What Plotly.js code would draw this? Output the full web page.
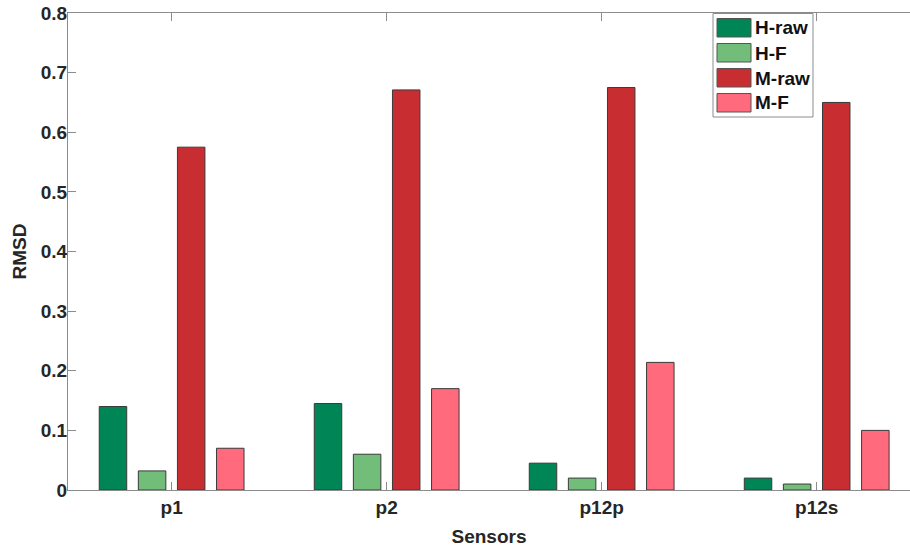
<!DOCTYPE html>
<html>
<head>
<meta charset="utf-8">
<script src="https://cdn.plot.ly/plotly-3.0.1.min.js"></script>
<style>html,body{margin:0;padding:0;background:#fff;}#chart{width:910px;height:549px;}</style>
</head>
<body>
<div id="chart"></div>
<script>
// ---- data ----
const sensors = ["p1", "p2", "p12p", "p12s"];
const seriesNames = ["H-raw", "H-F", "M-raw", "M-F"];
const hRaw = [0.14, 0.145, 0.045, 0.02];
const hF   = [0.032, 0.06, 0.02, 0.01];
const mRaw = [0.575, 0.671, 0.675, 0.65];
const mF   = [0.07, 0.17, 0.214, 0.1];
const seriesColors = ["#008557", "#72BD7A", "#C82E31", "#FF6B7D"];
const yTickVals = [0, 0.1, 0.2, 0.3, 0.4, 0.5, 0.6, 0.7, 0.8];

const seriesValues = [hRaw, hF, mRaw, mF];
const FONT = "Liberation Sans, Arial, sans-serif";

const traces = seriesValues.map((vals, i) => ({
  type: "bar",
  name: seriesNames[i],
  x: sensors,
  y: vals,
  marker: { color: seriesColors[i], line: { color: "#3a3a3a", width: 1 } },
  showlegend: false,
  hoverinfo: "x+y+name"
}));

// plot area in pixels (for custom legend placement)
const W = 910, H = 549, L = 68, R = 0, T = 13, B = 59;
const pw = W - L - R, ph = H - T - B;
const px2x = p => (p - L) / pw;
const py2y = p => 1 - (p - T) / ph;

const shapes = [];
const annotations = [];
// legend box
shapes.push({ type: "rect", xref: "paper", yref: "paper",
  x0: px2x(713), x1: px2x(813), y0: py2y(117), y1: py2y(13.5),
  line: { color: "#8c8c8c", width: 1 }, fillcolor: "#ffffff", layer: "above" });
seriesNames.forEach((n, i) => {
  const top = 18.5 + i * 25;
  shapes.push({ type: "rect", xref: "paper", yref: "paper",
    x0: px2x(717), x1: px2x(751), y0: py2y(top + 18.5), y1: py2y(top),
    line: { color: "#555555", width: 1 }, fillcolor: seriesColors[i], layer: "above" });
  annotations.push({ xref: "paper", yref: "paper", x: px2x(753), y: py2y(top + 9.5),
    xanchor: "left", yanchor: "middle", showarrow: false, text: "<b>" + n + "</b>",
    font: { family: FONT, size: 19, color: "#111111" } });
});

const layout = {
  width: W, height: H,
  margin: { l: L, r: R, t: T, b: B, pad: 0 },
  paper_bgcolor: "#ffffff", plot_bgcolor: "#ffffff",
  barmode: "group",
  bargap: 0.2726,
  bargroupgap: 0.297,
  font: { family: FONT, size: 19, color: "#262626" },
  xaxis: {
    type: "category",
    range: [-0.482, 3.434],
    showline: true, linecolor: "#8c8c8c", linewidth: 1,
    mirror: "ticks",
    ticks: "inside", ticklen: 8, tickcolor: "#8c8c8c", tickwidth: 1,
    showgrid: false, zeroline: false,
    tickfont: { family: FONT, size: 19, color: "#262626", weight: "bold" },
    ticklabelstandoff: 0,
    title: { text: "<b>Sensors</b>", font: { family: FONT, size: 19, color: "#262626" }, standoff: 12 }
  },
  yaxis: {
    range: [0, 0.8],
    tickvals: yTickVals,
    showline: true, linecolor: "#8c8c8c", linewidth: 1,
    mirror: false,
    ticks: "inside", ticklen: 8, tickcolor: "#8c8c8c", tickwidth: 1,
    showgrid: false, zeroline: false,
    tickfont: { family: FONT, size: 19, color: "#262626", weight: "bold" },
    ticklabelstandoff: -4,
    title: { text: "<b>RMSD</b>", font: { family: FONT, size: 19, color: "#262626" }, standoff: 9 }
  },
  shapes: shapes,
  annotations: annotations,
  showlegend: false
};

Plotly.newPlot("chart", traces, layout, { displayModeBar: false, staticPlot: true });
</script>
</body>
</html>
